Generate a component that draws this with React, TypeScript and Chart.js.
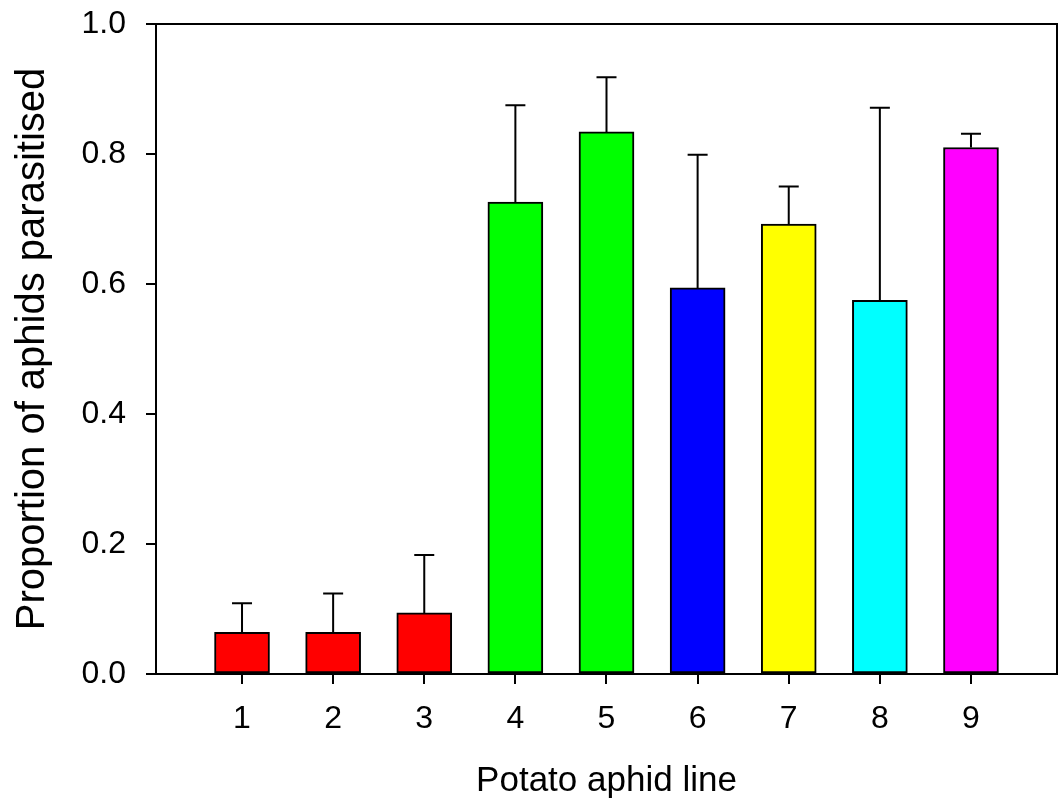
import React, { useEffect, useRef } from "react";
import { Chart, registerables } from "chart.js";

Chart.register(...registerables);

const categories = [1, 2, 3, 4, 5, 6, 7, 8, 9];
const xTickLabels = ["1", "2", "3", "4", "5", "6", "7", "8", "9"];
const meanValues = [0.064, 0.064, 0.094, 0.726, 0.834, 0.594, 0.692, 0.575, 0.81];
const upperErrorValues = [0.109, 0.124, 0.183, 0.875, 0.918, 0.799, 0.75, 0.871, 0.831];
const barColors = ["#FF0000", "#FF0000", "#FF0000", "#00FF00", "#00FF00", "#0000FF", "#FFFF00", "#00FFFF", "#FF00FF"];
const yTickValues = [0, 0.2, 0.4, 0.6, 0.8, 1.0];

const FONT = "'Liberation Sans', Arial, sans-serif";

const errorBarPlugin = {
  id: "errorBars",
  afterDatasetsDraw(chart: any) {
    const { ctx, scales } = chart;
    const meta = chart.getDatasetMeta(0);
    ctx.save();
    ctx.strokeStyle = "#000";
    ctx.lineWidth = 2;
    meta.data.forEach((bar: any, i: number) => {
      const x = scales.x.getPixelForValue(categories[i]);
      const yTop = scales.y.getPixelForValue(upperErrorValues[i]);
      const yBase = scales.y.getPixelForValue(meanValues[i]);
      ctx.beginPath();
      ctx.moveTo(x, yBase);
      ctx.lineTo(x, yTop);
      ctx.moveTo(x - 10, yTop);
      ctx.lineTo(x + 10, yTop);
      ctx.stroke();
    });
    ctx.restore();
  },
  afterDraw(chart: any) {
    const { ctx, chartArea } = chart;
    ctx.save();
    ctx.strokeStyle = "#000";
    ctx.lineWidth = 2;
    ctx.strokeRect(chartArea.left, chartArea.top, chartArea.right - chartArea.left, chartArea.bottom - chartArea.top);
    ctx.restore();
  },
};

export default function App() {
  const canvasRef = useRef<HTMLCanvasElement | null>(null);

  useEffect(() => {
    if (!canvasRef.current) return;
    Chart.defaults.color = "#000";
    const chart = new Chart(canvasRef.current, {
      type: "bar",
      data: {
        datasets: [
          {
            data: categories.map((c, i) => ({ x: c, y: meanValues[i] })),
            backgroundColor: barColors,
            borderColor: "#000",
            borderWidth: 2,
            borderSkipped: false,
            barThickness: 55,
          },
        ],
      },
      options: {
        animation: false,
        responsive: false,
        maintainAspectRatio: false,
        layout: { padding: { top: 24, right: 1, left: 0, bottom: 0 } },
        plugins: { legend: { display: false }, tooltip: { enabled: false } },
        scales: {
          x: {
            type: "linear",
            min: 0.056,
            max: 9.944,
            offset: false,
            afterFit(scale: any) {
              scale.height = 125;
              scale.paddingLeft = 0;
              scale.paddingRight = 0;
            },
            afterBuildTicks(scale: any) {
              scale.ticks = categories.map((v) => ({ value: v }));
            },
            ticks: {
              autoSkip: false,
              maxRotation: 0,
              padding: 16,
              color: "#000",
              font: { family: FONT, size: 32 },
              callback: (v: any) => {
                const idx = categories.indexOf(Number(v));
                return idx >= 0 ? xTickLabels[idx] : "";
              },
            },
            grid: {
              display: true,
              offset: false,
              drawOnChartArea: false,
              drawTicks: true,
              tickLength: 10,
              color: "#000",
              lineWidth: 2,
            },
            border: { display: false },
            title: {
              display: true,
              text: "Potato aphid line",
              color: "#000",
              font: { family: FONT, size: 35, lineHeight: 1 },
              padding: { top: 0, bottom: 0 },
            },
          },
          y: {
            type: "linear",
            min: 0,
            max: 1,
            afterFit(scale: any) {
              scale.width = 156;
              scale.paddingTop = 0;
              scale.paddingBottom = 0;
            },
            afterBuildTicks(scale: any) {
              scale.ticks = yTickValues.map((v) => ({ value: v }));
            },
            ticks: {
              padding: 20,
              color: "#000",
              font: { family: FONT, size: 32 },
              callback: (v: any) => Number(v).toFixed(1),
            },
            grid: {
              display: true,
              drawOnChartArea: false,
              drawTicks: true,
              tickLength: 10,
              color: "#000",
              lineWidth: 2,
            },
            border: { display: false },
            title: {
              display: true,
              text: "Proportion of aphids parasitised",
              color: "#000",
              font: { family: FONT, size: 40, lineHeight: 1 },
              padding: { top: 13, bottom: 0 },
            },
          },
        },
      },
      plugins: [errorBarPlugin],
    });
    return () => chart.destroy();
  }, []);

  return (
    <div style={{ position: "fixed", left: 0, top: 0, width: 1058, height: 799, background: "#fff" }}>
      <canvas ref={canvasRef} width={1058} height={799} style={{ width: 1058, height: 799 }} />
    </div>
  );
}
